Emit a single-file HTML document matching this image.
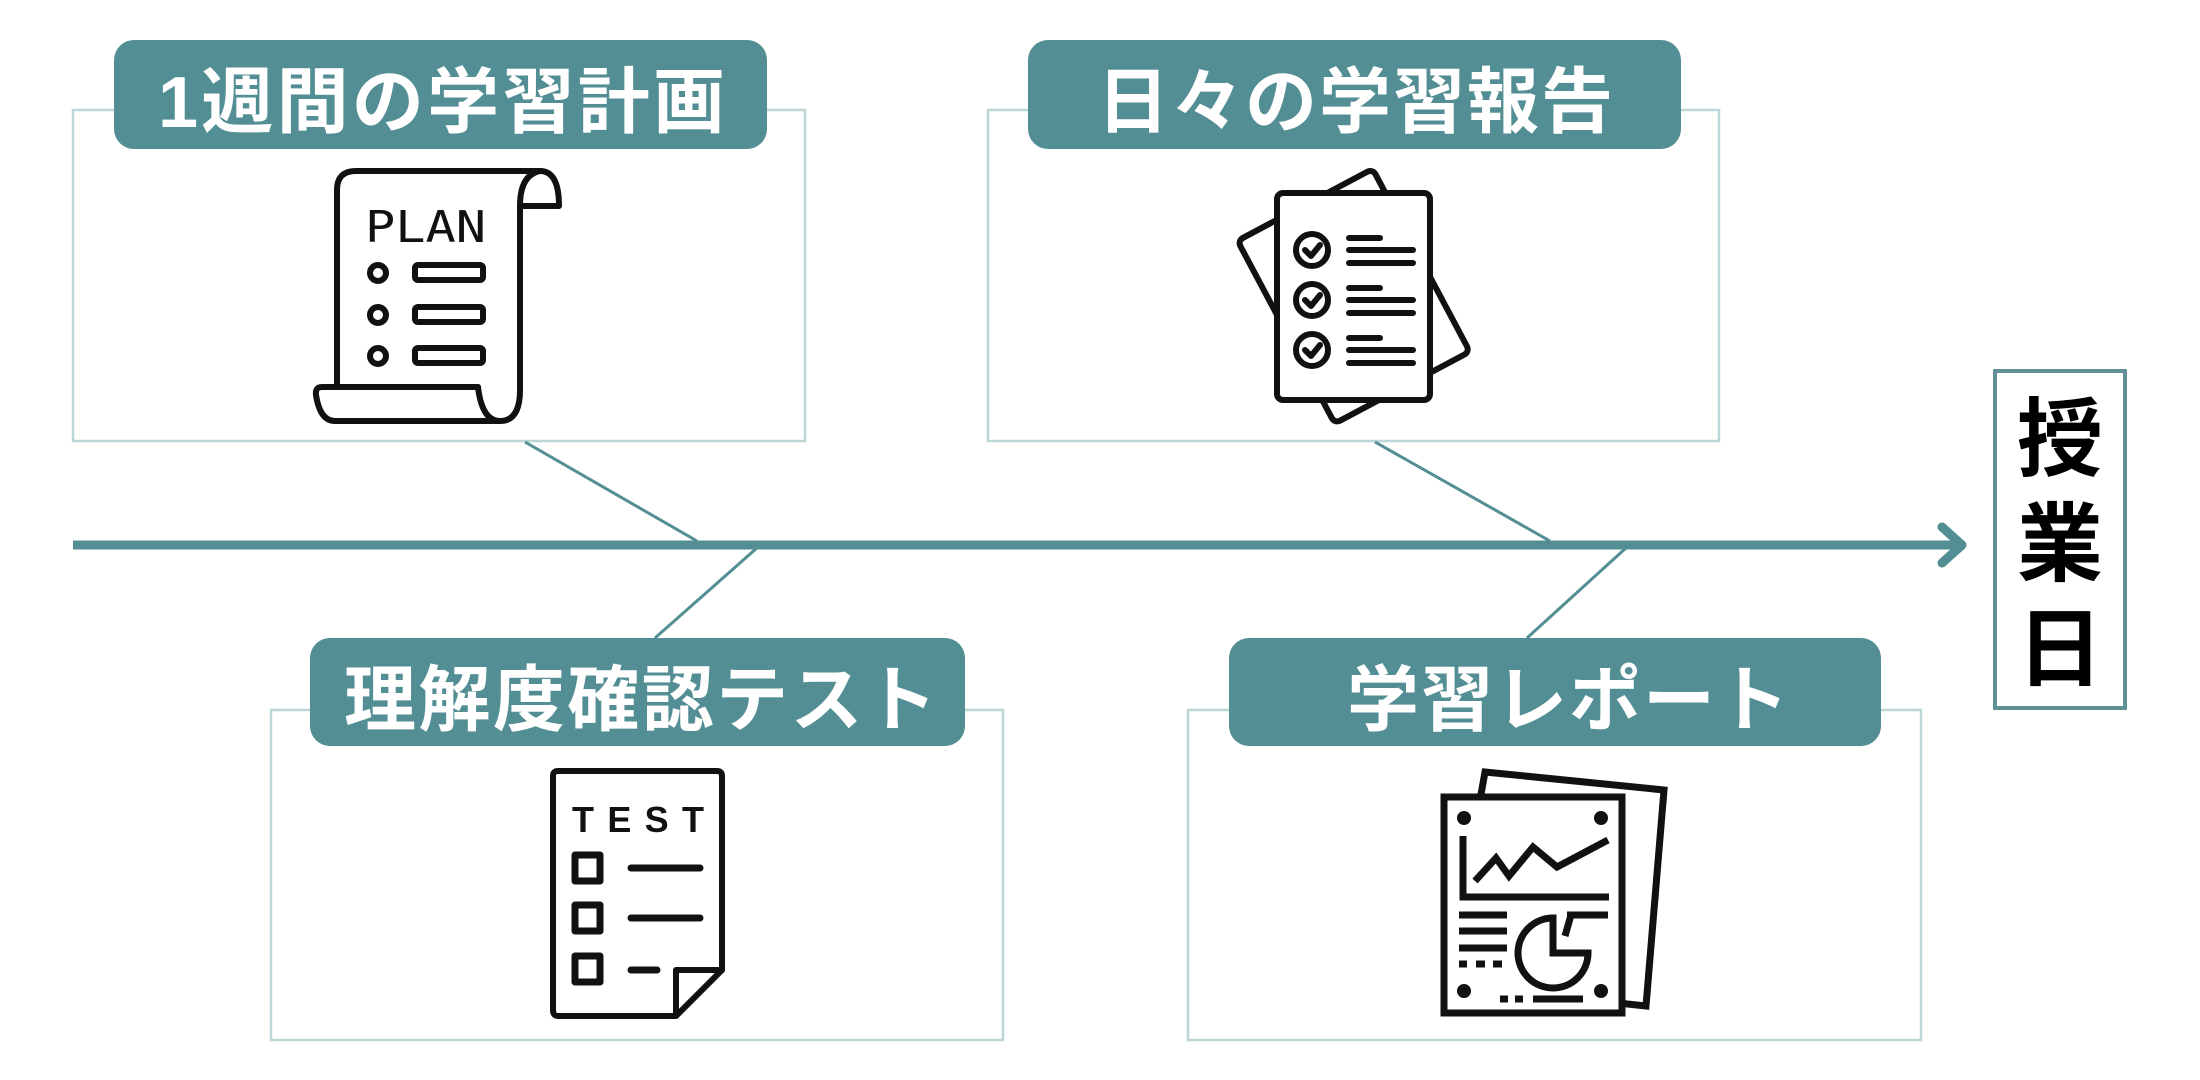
<!DOCTYPE html>
<html><head><meta charset="utf-8"><style>
html,body{margin:0;padding:0;background:#fff;}
svg{display:block;}
.lbl{font-family:"Liberation Sans","Noto Sans CJK JP",sans-serif;font-weight:bold;font-size:72px;fill:#fff;}
.ic{fill:none;stroke:#111;stroke-width:6;stroke-linecap:round;stroke-linejoin:round;}
</style></head><body>
<svg width="2200" height="1080" viewBox="0 0 2200 1080" xmlns="http://www.w3.org/2000/svg">
<rect width="2200" height="1080" fill="#fff"/>
<g fill="#fff" stroke="#bcd6d6" stroke-width="2.5">
<rect x="73" y="110" width="732" height="331"/>
<rect x="988" y="110" width="731" height="331"/>
<rect x="271" y="710" width="732" height="330"/>
<rect x="1188" y="710" width="733" height="330"/>
</g>
<g stroke="#528e93" stroke-width="3">
<line x1="525" y1="442" x2="697" y2="541"/>
<line x1="758" y1="547" x2="655" y2="638"/>
<line x1="1375" y1="442" x2="1550" y2="541"/>
<line x1="1627" y1="547" x2="1527" y2="638"/>
</g>
<line x1="73" y1="545" x2="1960" y2="545" stroke="#528e93" stroke-width="9"/>
<polyline points="1942,527 1962,545 1942,563" fill="none" stroke="#528e93" stroke-width="9" stroke-linecap="round" stroke-linejoin="round"/>
<g fill="#528e93">
<rect x="114" y="40" width="653" height="109" rx="20"/>
<rect x="1028" y="40" width="653" height="109" rx="20"/>
<rect x="310" y="638" width="655" height="108" rx="20"/>
<rect x="1229" y="638" width="652" height="108" rx="20"/>
</g>
<text class="lbl" x="158" y="127" textLength="567" lengthAdjust="spacing">1週間の学習計画</text>
<text class="lbl" x="1097" y="127" textLength="516" lengthAdjust="spacing">日々の学習報告</text>
<text class="lbl" x="344" y="725" textLength="593" lengthAdjust="spacing">理解度確認テスト</text>
<text class="lbl" x="1347" y="725" textLength="442" lengthAdjust="spacing">学習レポート</text>
<rect x="1995" y="371" width="130" height="337" fill="#fff" stroke="#5f9197" stroke-width="4"/>
<g font-family="'Liberation Sans','Noto Sans CJK JP',sans-serif" font-weight="bold" font-size="86" fill="#000" text-anchor="middle">
<text x="2060" y="469">授</text>
<text x="2060" y="574">業</text>
<text x="2060" y="679">日</text>
</g>
<g class="ic">
<path d="M337,385 L337,190 Q337,171 356,171 L540,171 Q559,171 559,206 L520,206 L520,390 Q520,421 500,421 Q482,421 478,387"/>
<path d="M520,206 Q520,175 540,171"/>
<path d="M478,387 L322,387 Q315,387 316,395 Q320,421 335,421 L500,421"/>
</g>
<text x="365" y="242" font-family="'DejaVu Sans Mono','Liberation Mono',monospace" font-size="44" fill="#111" textLength="121" lengthAdjust="spacingAndGlyphs">PLAN</text>
<g class="ic" stroke-width="5">
<circle cx="378" cy="273" r="8"/><circle cx="378" cy="315" r="8"/><circle cx="378" cy="356" r="8"/>
<rect x="415" y="265" width="68" height="15" rx="3"/>
<rect x="415" y="307" width="68" height="15" rx="3"/>
<rect x="415" y="348" width="68" height="15" rx="3"/>
</g>
<g class="ic">
<rect x="1277" y="193" width="153" height="207" rx="6" transform="rotate(-28 1353 296)" fill="#fff"/>
<rect x="1277" y="193" width="153" height="207" rx="6" fill="#fff"/>
<circle cx="1312" cy="250" r="16"/><circle cx="1312" cy="300" r="16"/><circle cx="1312" cy="350" r="16"/>
<polyline points="1305,250 1311,256 1320,245"/>
<polyline points="1305,300 1311,306 1320,295"/>
<polyline points="1305,350 1311,356 1320,345"/>
<line x1="1349" y1="238" x2="1380" y2="238"/><line x1="1349" y1="250" x2="1413" y2="250"/><line x1="1349" y1="263" x2="1413" y2="263"/>
<line x1="1349" y1="288" x2="1380" y2="288"/><line x1="1349" y1="300" x2="1413" y2="300"/><line x1="1349" y1="313" x2="1413" y2="313"/>
<line x1="1349" y1="338" x2="1380" y2="338"/><line x1="1349" y1="350" x2="1413" y2="350"/><line x1="1349" y1="363" x2="1413" y2="363"/>
</g>
<g class="ic">
<path d="M676,1016 L558,1016 Q553,1016 553,1010 L553,776 Q553,771 558,771 L717,771 Q722,771 722,776 L722,970 Z"/>
<path d="M676,1016 L676,970 L722,970"/>
<rect x="575" y="855" width="25" height="26" stroke-width="7"/>
<rect x="575" y="905" width="25" height="26" stroke-width="7"/>
<rect x="575" y="956" width="25" height="26" stroke-width="7"/>
<line x1="631" y1="868" x2="700" y2="868" stroke-width="7"/>
<line x1="631" y1="918" x2="700" y2="918" stroke-width="7"/>
<line x1="631" y1="970" x2="657" y2="970" stroke-width="7"/>
</g>
<text x="572" y="832" font-family="'Liberation Sans',sans-serif" font-weight="bold" font-size="36" fill="#111" textLength="132" lengthAdjust="spacing">TEST</text>
<g fill="none" stroke="#111" stroke-width="7" stroke-linejoin="miter">
<polygon points="1485,772 1664,790 1646,1006 1590,1000 1480,800" fill="#fff"/>
<rect x="1444" y="797" width="178" height="216" fill="#fff"/>
<polyline points="1463,836 1463,897 1609,897"/>
<polyline points="1475,881 1496,858 1509,876 1533,847 1557,867 1608,840"/>
<line x1="1459" y1="915" x2="1507" y2="915"/><line x1="1459" y1="931" x2="1507" y2="931"/><line x1="1459" y1="948" x2="1507" y2="948"/>
<line x1="1567" y1="915" x2="1608" y2="915"/>
<line x1="1571" y1="915" x2="1565" y2="936"/>
<path d="M1553,918 A35,35 0 1 0 1588,953 L1553,953 Z"/>
<line x1="1500" y1="999" x2="1508" y2="999"/><line x1="1515" y1="999" x2="1523" y2="999"/><line x1="1533" y1="999" x2="1583" y2="999"/>
<line x1="1459" y1="964" x2="1467" y2="964"/><line x1="1476" y1="964" x2="1485" y2="964"/><line x1="1493" y1="964" x2="1502" y2="964"/>
</g>
<g fill="#111">
<circle cx="1464" cy="818" r="7"/><circle cx="1601" cy="818" r="7"/><circle cx="1464" cy="991" r="7"/><circle cx="1601" cy="991" r="7"/>
</g>
</svg>
</body></html>
